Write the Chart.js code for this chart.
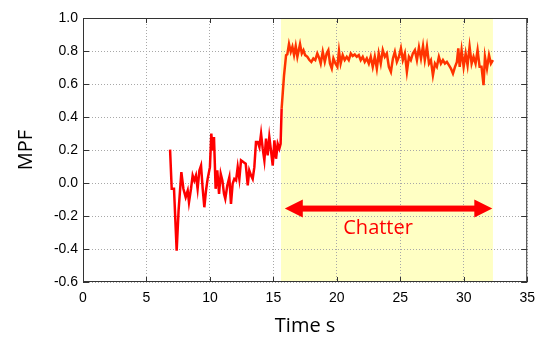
<!DOCTYPE html>
<html>
<head>
<meta charset="utf-8">
<script src="https://cdn.jsdelivr.net/npm/chart.js@4/dist/chart.umd.min.js"></script>
<style>
  html, body { margin: 0; padding: 0; background: #fff; }
  #wrap { width: 543px; height: 338px; }
</style>
</head>
<body>
<div id="wrap"><canvas id="mpfChart"></canvas></div>
<script>
// time stamps (s) and MPF values
const timeS = [6.86, 6.99, 7.17, 7.38, 7.53, 7.75, 7.91, 8.09, 8.25, 8.35, 8.51, 8.64, 8.77, 8.9, 9.03, 9.17, 9.3, 9.43, 9.56, 9.69,
  9.82, 10.0, 10.11, 10.22, 10.32, 10.45, 10.58, 10.72, 10.85, 10.98, 11.11, 11.21, 11.37, 11.53, 11.66, 11.79, 11.92, 12.06, 12.19, 12.32,
  12.45, 12.63, 12.82, 12.98, 13.1, 13.24, 13.37, 13.5, 13.63, 13.77, 13.9, 14.03, 14.16, 14.29, 14.42, 14.55, 14.68, 14.81, 14.95, 15.08,
  15.21, 15.34, 15.47, 15.57, 15.65, 15.84, 16.0, 16.1, 16.23, 16.37, 16.5, 16.63, 16.76, 16.89, 17.1, 17.24, 17.37, 17.5, 17.68, 17.84,
  17.99, 18.15, 18.3, 18.46, 18.62, 18.73, 18.89, 19.05, 19.2, 19.33, 19.46, 19.6, 19.73, 19.89, 20.04, 20.17, 20.3, 20.46, 20.62, 20.78,
  20.94, 21.1, 21.25, 21.41, 21.57, 21.73, 21.88, 22.04, 22.2, 22.36, 22.52, 22.67, 22.83, 22.99, 23.15, 23.3, 23.46, 23.62, 23.78, 23.94,
  24.1, 24.26, 24.42, 24.57, 24.73, 24.89, 25.05, 25.2, 25.36, 25.52, 25.68, 25.83, 25.99, 26.15, 26.31, 26.47, 26.63, 26.79, 26.93, 27.1,
  27.26, 27.41, 27.57, 27.73, 27.88, 28.04, 28.2, 28.36, 28.52, 28.67, 28.83, 28.99, 29.15, 29.31, 29.46, 29.57, 29.68, 29.83, 29.99, 30.15,
  30.3, 30.46, 30.62, 30.77, 30.93, 31.09, 31.25, 31.4, 31.56, 31.67, 31.83, 31.99, 32.14, 32.3];
const mpf = [0.202, -0.035, -0.035, -0.41, -0.167, 0.066, -0.035, -0.086, -0.046, -0.117, -0.035, 0.046, 0.015, 0.046, -0.035, 0.076, 0.106, -0.035, -0.147, -0.046,
  0.025, 0.096, 0.299, 0.198, 0.279, -0.035, 0.076, -0.066, 0.056, 0.015, -0.066, -0.096, -0.015, 0.035, -0.127, -0.005, 0.025, 0.015, 0.096, 0.025,
  0.137, 0.127, 0.117, -0.015, 0.076, 0.046, 0.025, 0.096, 0.248, 0.248, 0.218, 0.299, 0.208, 0.137, 0.269, 0.167, 0.279, 0.198, 0.106, 0.258,
  0.147, 0.238, 0.208, 0.238, 0.451, 0.653, 0.775, 0.78, 0.842, 0.795, 0.826, 0.775, 0.83, 0.765, 0.842, 0.785, 0.805, 0.775, 0.765, 0.745,
  0.734, 0.755, 0.745, 0.785, 0.755, 0.724, 0.795, 0.734, 0.785, 0.805, 0.724, 0.694, 0.755, 0.724, 0.704, 0.8, 0.724, 0.775, 0.745, 0.765,
  0.745, 0.785, 0.77, 0.779, 0.765, 0.775, 0.745, 0.765, 0.734, 0.755, 0.724, 0.765, 0.704, 0.765, 0.694, 0.785, 0.724, 0.805, 0.765, 0.785,
  0.704, 0.674, 0.755, 0.795, 0.734, 0.765, 0.816, 0.745, 0.785, 0.674, 0.765, 0.745, 0.785, 0.805, 0.745, 0.822, 0.755, 0.83, 0.745, 0.826,
  0.724, 0.745, 0.653, 0.724, 0.704, 0.765, 0.724, 0.745, 0.724, 0.734, 0.714, 0.694, 0.664, 0.704, 0.734, 0.816, 0.704, 0.805, 0.704, 0.785,
  0.714, 0.826, 0.724, 0.765, 0.724, 0.805, 0.704, 0.704, 0.593, 0.765, 0.694, 0.775, 0.724, 0.745];

const xTicks = [0, 5, 10, 15, 20, 25, 30, 35];
const yTicks = [-0.6, -0.4, -0.2, 0.0, 0.2, 0.4, 0.6, 0.8, 1.0];

// chatter band and arrow (data units)
const chatterStart = 15.6;
const chatterEnd = 32.3;
const arrowY = -0.155;
const arrowFrom = 15.9;
const arrowTo = 32.25;
const labelX = 23.25;
const labelY = -0.275;

const points = timeS.map((t, i) => ({ x: t, y: mpf[i] }));

const chatterPlugin = {
    id: 'chatter',
    beforeDraw(chart) {
        const { ctx, chartArea, scales } = chart;
        const x0 = scales.x.getPixelForValue(chatterStart);
        const x1 = scales.x.getPixelForValue(chatterEnd);
        ctx.save();
        ctx.fillStyle = '#ffffc4';
        ctx.fillRect(x0, chartArea.top, x1 - x0, chartArea.bottom - chartArea.top);
        ctx.restore();
    },
    afterDatasetsDraw(chart) {
        const { ctx, chartArea, scales } = chart;
        const xs = scales.x, ys = scales.y;
        ctx.save();

        // box frame
        ctx.strokeStyle = '#333';
        ctx.lineWidth = 1;
        ctx.strokeRect(chartArea.left + 0.5, chartArea.top + 0.5,
            chartArea.right - chartArea.left - 1, chartArea.bottom - chartArea.top - 1);

        // inward tick marks
        ctx.beginPath();
        xTicks.forEach(v => {
            const px = Math.round(xs.getPixelForValue(v)) + 0.5;
            ctx.moveTo(px, chartArea.bottom); ctx.lineTo(px, chartArea.bottom - 5);
            ctx.moveTo(px, chartArea.top); ctx.lineTo(px, chartArea.top + 5);
        });
        yTicks.forEach(v => {
            const py = Math.round(ys.getPixelForValue(v)) + 0.5;
            ctx.moveTo(chartArea.left, py); ctx.lineTo(chartArea.left + 6, py);
            ctx.moveTo(chartArea.right, py); ctx.lineTo(chartArea.right - 6, py);
        });
        ctx.stroke();

        // double arrow
        const ay = ys.getPixelForValue(arrowY);
        const ax0 = xs.getPixelForValue(arrowFrom);
        const ax1 = xs.getPixelForValue(arrowTo);
        const head = 18, half = 9;
        ctx.fillStyle = '#ff0000';
        ctx.fillRect(ax0 + head - 1, ay - 3, ax1 - ax0 - 2 * head + 2, 6);
        ctx.beginPath();
        ctx.moveTo(ax0, ay); ctx.lineTo(ax0 + head, ay - half); ctx.lineTo(ax0 + head, ay + half); ctx.closePath();
        ctx.moveTo(ax1, ay); ctx.lineTo(ax1 - head, ay - half); ctx.lineTo(ax1 - head, ay + half); ctx.closePath();
        ctx.fill();

        ctx.font = '20px "Open Sans", sans-serif';
        ctx.textAlign = 'center';
        ctx.textBaseline = 'middle';
        ctx.fillText('Chatter', xs.getPixelForValue(labelX), ys.getPixelForValue(labelY));
        ctx.restore();
    }
};

new Chart(document.getElementById('mpfChart'), {
    type: 'line',
    data: {
        datasets: [{
            data: points,
            borderColor: '#ff0000',
            borderWidth: 2.5,
            pointRadius: 0,
            tension: 0,
            segment: {
                borderColor: c => (c.p0.parsed.x >= chatterStart ? '#ff3300' : '#ff0000')
            }
        }]
    },
    options: {
        responsive: true,
        maintainAspectRatio: false,
        animation: false,
        layout: { padding: { top: 18, right: 15, left: 0, bottom: 0 } },
        plugins: {
            legend: { display: false },
            tooltip: { enabled: false }
        },
        scales: {
            x: {
                type: 'linear',
                min: 0,
                max: 35,
                afterBuildTicks: s => { s.ticks = xTicks.map(v => ({ value: v })); },
                afterFit: s => { s.height = 56; },
                ticks: {
                    color: '#000',
                    font: { family: 'Liberation Sans, Arial', size: 14 },
                    padding: 8,
                    maxRotation: 0
                },
                grid: {
                    color: '#a8a8a8',
                    drawTicks: false,
                    tickLength: 0
                },
                border: { display: false, dash: [1, 2] },
                title: {
                    display: true,
                    text: 'Time s',
                    color: '#000',
                    font: { family: 'Open Sans', size: 20 },
                    padding: { top: 0, bottom: 0 }
                }
            },
            y: {
                min: -0.6,
                max: 1.0,
                afterBuildTicks: s => { s.ticks = yTicks.map(v => ({ value: v })); },
                afterFit: s => { s.width = 83; },
                ticks: {
                    color: '#000',
                    font: { family: 'Liberation Sans, Arial', size: 14 },
                    padding: 5,
                    callback: v => v.toFixed(1)
                },
                grid: {
                    color: '#a8a8a8',
                    drawTicks: false,
                    tickLength: 0
                },
                border: { display: false, dash: [1, 2] },
                title: {
                    display: true,
                    text: 'MPF',
                    color: '#000',
                    font: { family: 'Open Sans', size: 20 },
                    padding: { top: 14, bottom: 0 }
                }
            }
        }
    },
    plugins: [chatterPlugin]
});
</script>
</body>
</html>
